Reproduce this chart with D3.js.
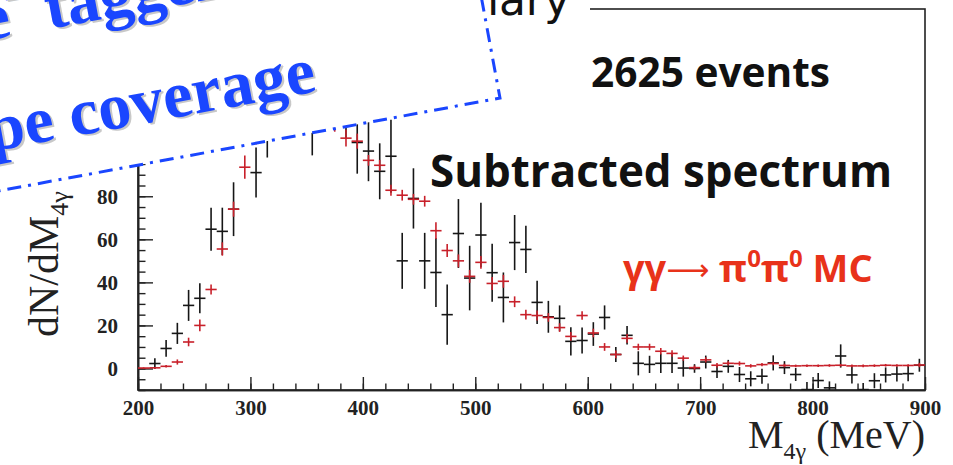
<!DOCTYPE html>
<html>
<head>
<meta charset="utf-8">
<script src="https://cdn.jsdelivr.net/npm/d3@7/dist/d3.min.js"></script>
<style>
body{margin:0;background:#fff;}
</style>
</head>
<body>
<svg id="chart" width="953" height="465"></svg>
<script>
// bin centres, 10 MeV bins
var binCenters = [205,215,225,235,245,255,265,275,285,295,
	305,315,325,335,345,355,365,375,385,395,
	405,415,425,435,445,455,465,475,485,495,
	505,515,525,535,545,555,565,575,585,595,
	605,615,625,635,645,655,665,675,685,695,
	705,715,725,735,745,755,765,775,785,795,
	805,815,825,835,845,855,865,875,885,895];

// subtracted spectrum (black)
var dataVal = [null,2.3,9.3,16.3,29.3,32.6,64.7,63.7,74,118,
	91,110,125,130,122,117,128,125,120,105,
	101,91.6,98.6,50,79,50,44.6,25,62.7,42,
	62,44.5,33,58.5,55.3,30.7,24,23.3,12.6,13,
	16,23.7,6.5,15.4,2.4,1.9,2.4,2.4,0.2,0,
	3,-1.4,1,-2.8,-4.8,-3.6,2.6,0.4,-2.8,-9.8,
	-5.6,-9,5.8,-3,-9.8,-5.7,-3,-2.6,-2.4,1.5];
var dataErr = [0,2.5,3.9,4.9,7.2,7,10,11,12.5,13,
	11.6,12,13,13,13,18,14,14,13,14.5,
	14,13,17,13,14,13,16,14,16,15,
	15,13.5,11.6,12.8,11,10,7.4,6,6.6,6,
	5.5,5.6,3.5,4.3,5.6,4,4.5,4.5,4,2,
	3,3,3,3.5,3.5,3.5,3.5,3,3,3.5,
	3.5,3,5.4,4,3,3.5,3.5,3.5,3.5,3];

// gg -> pi0 pi0 MC (red)
var mcVal = [0.2,0.3,1,3,12.3,20,36.7,55.5,74,93.5,
	108,117,122,124,123,120,116,114,107,105.6,
	96.7,94.4,82.8,80.5,78.6,77.7,64,54.8,50,42.8,
	49.3,39.5,40.5,31,25,24.6,23.7,19,14.9,24.6,
	16.5,10,6.5,14,10,10,8,7,4.8,0.4,
	4,1.5,2.4,2.3,1.2,1.8,2.3,1.4,1.2,1.3,
	1.3,1.4,1.5,1.2,1.2,1.3,1.5,1.4,1.4,1.6];
var mcErr = [0.3,0.4,0.6,1.2,2,2.7,2.3,3.1,3.5,5.4,
	4,4,4,4,4,4,4,4,3.9,3.5,
	2.5,2.5,2.5,2.5,2.5,2.5,3.9,3,3,3,
	3,3,3,2.5,2.3,2.3,2,2,2,2,
	2,1.8,1.8,2,1.5,1.5,1.5,1.5,1.2,1,
	1.2,1,1,1,0.8,0.8,0.8,0.8,0.6,0.6,
	0.6,0.6,0.6,0.6,0.6,0.6,0.6,0.6,0.6,1];

var xTicks = [200,300,400,500,600,700,800,900];
var yTicks = [0,20,40,60,80,100,120,140,160];

var svg = d3.select("#chart");
//frame edges (pixels)
var fr = {left:138, right:925, top:9, bottom:390};
var binHalf = 5;

var x = d3.scaleLinear().domain([200,900]).range([fr.left,fr.right]);
var y = d3.scaleLinear().domain([-10,167]).range([fr.bottom,fr.top]);

svg.append("defs").append("clipPath").attr("id","frameClip")
	.append("rect")
	.attr("x",fr.left).attr("y",fr.top)
	.attr("width",fr.right-fr.left).attr("height",fr.bottom-fr.top);

//frame
svg.append("rect")
	.attr("x",fr.left).attr("y",fr.top)
	.attr("width",fr.right-fr.left).attr("height",fr.bottom-fr.top)
	.attr("fill","none").attr("stroke","#222").attr("stroke-width",1.6);

//axes, ROOT style ticks pointing inward
var xMinor = svg.append("g").attr("transform","translate(0,"+fr.bottom+")")
	.call(d3.axisBottom(x).ticks(35).tickSizeInner(-6.5).tickSizeOuter(0).tickFormat(""));
var xMajor = svg.append("g").attr("transform","translate(0,"+fr.bottom+")")
	.call(d3.axisBottom(x).tickValues(xTicks).tickSizeInner(-13).tickSizeOuter(0).tickPadding(10).tickFormat(d3.format("d")));
var yMinor = svg.append("g").attr("transform","translate("+fr.left+",0)")
	.call(d3.axisLeft(y).tickValues(d3.range(-10,166,5)).tickSizeInner(-7.5).tickSizeOuter(0).tickFormat(""));
var yMajor = svg.append("g").attr("transform","translate("+fr.left+",0)")
	.call(d3.axisLeft(y).tickValues(yTicks).tickSizeInner(-15).tickSizeOuter(0).tickPadding(20).tickFormat(d3.format("d")));

[xMinor,xMajor,yMinor,yMajor].forEach(function(g){
	g.select(".domain").attr("stroke","#222").attr("stroke-width",1.6);
	g.selectAll(".tick line").attr("stroke","#222").attr("stroke-width",1.4);
	g.selectAll(".tick text")
		.attr("font-family","'Liberation Serif', serif")
		.attr("font-weight","bold")
		.attr("font-size",21)
		.attr("fill","#222");
});

//error crosses
function drawCrosses(vals, errs, color, width){
	var pts = [];
	vals.forEach(function(v, i){
		if(v !== null) pts.push([binCenters[i], v, errs[i]]);
	});
	var g = svg.append("g").attr("clip-path","url(#frameClip)")
		.attr("stroke",color).attr("stroke-width",width);
	g.selectAll("line.h").data(pts).enter().append("line")
		.attr("class","h")
		.attr("x1",function(d){ return x(d[0]-binHalf); })
		.attr("x2",function(d){ return x(d[0]+binHalf); })
		.attr("y1",function(d){ return y(d[1]); })
		.attr("y2",function(d){ return y(d[1]); });
	g.selectAll("line.v").data(pts).enter().append("line")
		.attr("class","v")
		.attr("x1",function(d){ return x(d[0]); })
		.attr("x2",function(d){ return x(d[0]); })
		.attr("y1",function(d){ return y(d[1]-d[2]); })
		.attr("y2",function(d){ return y(d[1]+d[2]); });
}
drawCrosses(dataVal, dataErr, "#161616", 1.6);
drawCrosses(mcVal, mcErr, "#c8202a", 1.6);

//labels
svg.append("text")
	.attr("x",591).attr("y",87)
	.attr("font-family","'Open Sans', sans-serif").attr("font-weight","bold")
	.attr("font-size",42).attr("fill","#111")
	.attr("textLength",239).attr("lengthAdjust","spacingAndGlyphs")
	.text("2625 events");

svg.append("text")
	.attr("x",430).attr("y",187)
	.attr("font-family","'Open Sans', sans-serif").attr("font-weight","bold")
	.attr("font-size",45).attr("fill","#111")
	.attr("textLength",462).attr("lengthAdjust","spacingAndGlyphs")
	.text("Subtracted spectrum");

var mcLabel = svg.append("text")
	.attr("x",623).attr("y",282)
	.attr("font-family","'Open Sans', sans-serif").attr("font-weight","bold")
	.attr("font-size",38).attr("fill","#e8321a");
mcLabel.append("tspan").text("γγ");
mcLabel.append("tspan").attr("font-family","'DejaVu Sans', sans-serif").attr("font-weight","normal").attr("font-size",30).attr("dy",-2).text("⟶");
mcLabel.append("tspan").attr("dy",2).text(" π");
mcLabel.append("tspan").attr("font-size",24).attr("dy",-15).text("0");
mcLabel.append("tspan").attr("dy",15).text("π");
mcLabel.append("tspan").attr("font-size",24).attr("dy",-15).text("0");
mcLabel.append("tspan").attr("dy",15).text(" MC");

var yTitle = svg.append("text")
	.attr("transform","translate(58,337) rotate(-90)")
	.attr("font-family","'Liberation Serif', serif")
	.attr("font-size",42).attr("fill","#222");
yTitle.append("tspan").text("dN/dM");
yTitle.append("tspan").attr("font-size",26).attr("dy",10).text("4γ");

var xTitle = svg.append("text")
	.attr("x",925).attr("y",448)
	.attr("text-anchor","end")
	.attr("font-family","'Liberation Serif', serif")
	.attr("font-size",40).attr("fill","#222");
xTitle.append("tspan").text("M");
xTitle.append("tspan").attr("font-size",24).attr("dy",11).text("4γ");
xTitle.append("tspan").attr("dy",-11).text(" (MeV)");

//slide overlay: "Preliminary" and the rotated note box
svg.append("rect").attr("x",440).attr("y",0).attr("width",150).attr("height",32).attr("fill","#fff");
svg.append("text")
	.attr("x",570).attr("y",15)
	.attr("text-anchor","end")
	.attr("font-family","'DejaVu Sans', sans-serif")
	.attr("font-size",44).attr("fill","#111")
	.text("Preliminary");

var note = svg.append("g").attr("transform","translate(500,98) rotate(-10.5)");
note.append("rect")
	.attr("x",-1200).attr("y",-700).attr("width",1200).attr("height",700)
	.attr("fill","#fff")
	.attr("stroke","#1a46ff").attr("stroke-width",3)
	.attr("stroke-dasharray","14,7,3,7");

function noteLine(offset, color){
	var t1 = note.append("text")
		.attr("x",-497+offset).attr("y",-150+offset)
		.attr("font-family","'Liberation Serif', serif").attr("font-weight","bold")
		.attr("font-size",66).attr("fill",color);
	t1.append("tspan").text("e");
	t1.append("tspan").attr("font-size",40).attr("dy",-28).text("–");
	t1.append("tspan").attr("dy",28).text(" tagger");
	note.append("text")
		.attr("x",-178+offset).attr("y",-40+offset)
		.attr("text-anchor","end")
		.attr("font-family","'Liberation Serif', serif").attr("font-weight","bold")
		.attr("font-size",66).attr("fill",color)
		.text("telescope coverage");
}
noteLine(2,"#c8c8c8");
noteLine(0,"#1a46ff");
</script>
</body>
</html>
